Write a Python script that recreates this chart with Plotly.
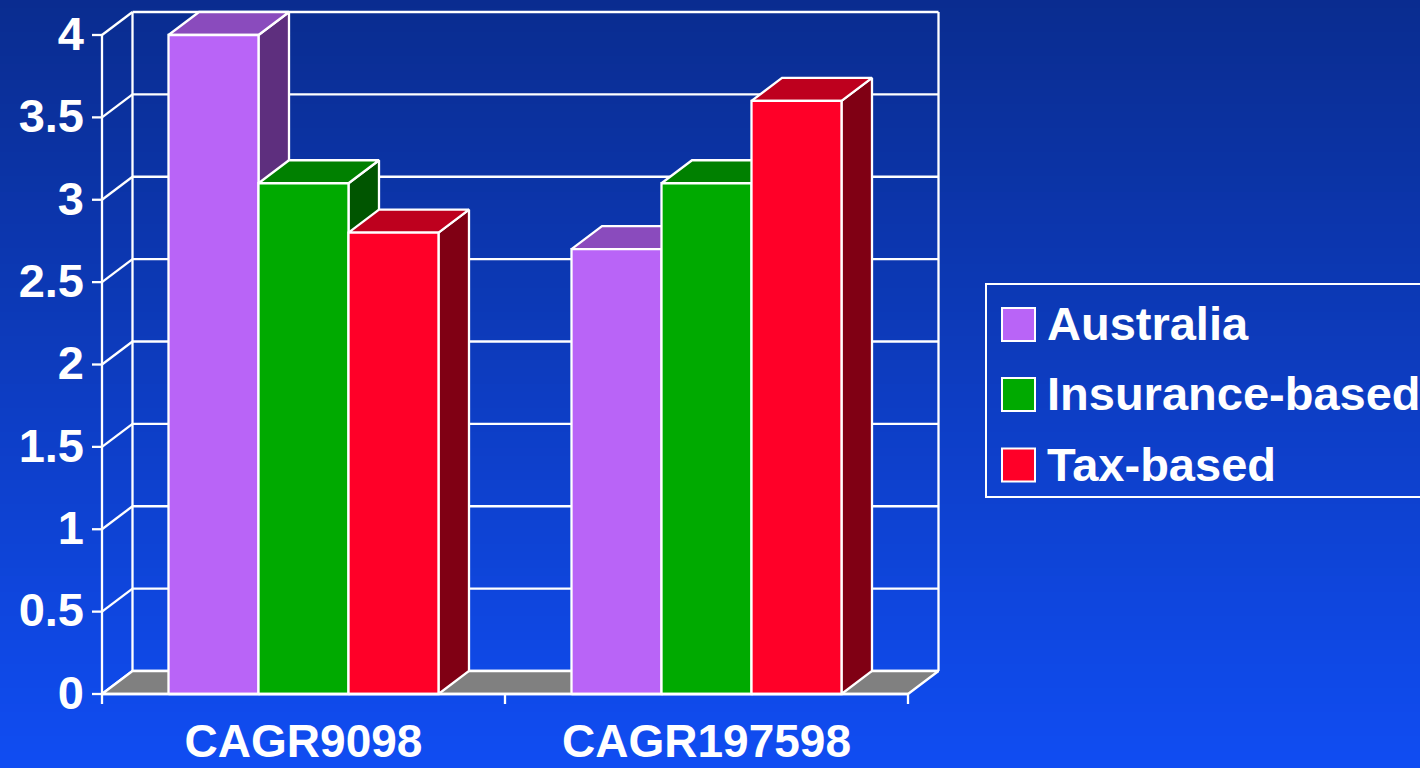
import plotly.graph_objects as go

# ---------------- data ----------------
categories = ["CAGR9098", "CAGR197598"]
series_names = ["Australia", "Insurance-based", "Tax-based"]
australia = [4.0, 2.7]
insurance_based = [3.1, 3.1]
tax_based = [2.8, 3.6]
y_tick_values = [0, 0.5, 1, 1.5, 2, 2.5, 3, 3.5, 4]
y_tick_labels = ["0", "0.5", "1", "1.5", "2", "2.5", "3", "3.5", "4"]

series_values = [australia, insurance_based, tax_based]
front_colors = ["#b964f7", "#00aa00", "#ff0028"]
top_colors = ["#8a4bbd", "#008000", "#be001e"]
side_colors = ["#5e2f7e", "#005500", "#800014"]

# ---------------- geometry (pixel scale of the axes) ----------------
W, H = 1420, 768
X0, XS = 102.0, 403.0      # pixel of x=0, pixels per category
Y0, YS = 694.0, 164.75     # pixel of y=0, pixels per unit
DX = 30.5 / XS             # depth offset in x (data units)
DY = 23.0 / YS             # depth offset in y (data units)
BAR_W = 90.0 / XS
YMAX = 4.0
LABEL_SHIFT = 3.0 / YS     # tick labels sit slightly below their ticks

def px_x(p):
    return (p - X0) / XS

def px_y(p):
    return (Y0 - p) / YS

WHITE = "white"
LW = 2.3
FONT = "Liberation Sans, Arial, sans-serif"

fig = go.Figure()

def poly(xs, ys, fill):
    fig.add_trace(go.Scatter(
        x=list(xs) + [xs[0]], y=list(ys) + [ys[0]],
        mode="lines", fill="toself", fillcolor=fill,
        line=dict(color=WHITE, width=LW), hoverinfo="skip", showlegend=False))

def line(xs, ys, width=LW):
    fig.add_trace(go.Scatter(
        x=xs, y=ys, mode="lines", line=dict(color=WHITE, width=width),
        hoverinfo="skip", showlegend=False))

ncat = len(categories)

# back wall gridlines and side wall diagonals
for v in y_tick_values:
    line([DX, ncat + DX], [v + DY, v + DY])
    line([0, DX], [v, v + DY])
line([DX, DX], [DY, YMAX + DY])
line([ncat + DX, ncat + DX], [DY, YMAX + DY])
line([0, 0], [0, YMAX])

# floor
poly([0, ncat, ncat + DX, DX], [0, 0, DY, DY], "#808080")

# bars
for i in range(ncat):
    c = i + 0.5
    for j, vals in enumerate(series_values):
        v = vals[i]
        x0 = c - 1.5 * BAR_W + j * BAR_W
        x1 = x0 + BAR_W
        poly([x1, x1, x1 + DX, x1 + DX], [0, v, v + DY, DY], side_colors[j])
        poly([x0, x1, x1 + DX, x0 + DX], [v, v, v + DY, v + DY], top_colors[j])
        poly([x0, x1, x1, x0], [0, 0, v, v], front_colors[j])

# axes lines and ticks
line([0, ncat], [0, 0])
for k in range(ncat + 1):
    line([k, k], [0, -10.0 / YS])
for v in y_tick_values:
    line([-10.0 / XS, 0], [v, v])

# y tick labels
fig.add_trace(go.Scatter(
    x=[px_x(84)] * len(y_tick_values), y=[v - LABEL_SHIFT for v in y_tick_values],
    text=y_tick_labels, mode="text", textposition="middle left",
    textfont=dict(family=FONT, size=47, color=WHITE, weight="bold"),
    hoverinfo="skip", showlegend=False))

# category labels
fig.add_trace(go.Scatter(
    x=[i + 0.5 for i in range(ncat)], y=[px_y(745)] * ncat, text=categories,
    mode="text", textposition="middle center",
    textfont=dict(family=FONT, size=46, color=WHITE, weight="bold"),
    hoverinfo="skip", showlegend=False))

# ---------------- background gradient ----------------
shapes = []
top_rgb = (10, 44, 143)
bot_rgb = (16, 77, 243)
nb = 96
for b in range(nb):
    t = (b + 0.5) / nb
    col = tuple(int(round(top_rgb[k] + (bot_rgb[k] - top_rgb[k]) * t)) for k in range(3))
    shapes.append(dict(type="rect", xref="paper", yref="paper", layer="below",
                       x0=0, x1=1, y0=1 - (b + 1) / nb - 0.001, y1=1 - b / nb,
                       fillcolor="rgb(%d,%d,%d)" % col, line=dict(width=0)))

# ---------------- legend ----------------
def pxp(x, y):
    return x / W, 1 - y / H

lx0, ly0 = pxp(986, 284)
lx1, ly1 = pxp(1440, 497)
shapes.append(dict(type="rect", xref="paper", yref="paper", x0=lx0, x1=lx1, y0=ly1, y1=ly0,
                   line=dict(color=WHITE, width=2), fillcolor="rgba(0,0,0,0)"))
annotations = []
row_y = [324.5, 394.5, 465]
for j, name in enumerate(series_names):
    sx0, sy0 = pxp(1002, row_y[j] - 16.5)
    sx1, sy1 = pxp(1035, row_y[j] + 16.5)
    shapes.append(dict(type="rect", xref="paper", yref="paper", x0=sx0, x1=sx1, y0=sy1, y1=sy0,
                       fillcolor=front_colors[j], line=dict(color=WHITE, width=2)))
    ax, ay = pxp(1045, row_y[j] - 1)
    annotations.append(dict(xref="paper", yref="paper", x=ax, y=ay, text=name,
                            xanchor="left", yanchor="middle", showarrow=False,
                            font=dict(family=FONT, size=47, color=WHITE, weight="bold")))

fig.update_layout(
    width=W, height=H, margin=dict(l=0, r=0, t=0, b=0),
    paper_bgcolor="rgb(10,44,143)", plot_bgcolor="rgba(0,0,0,0)",
    xaxis=dict(range=[px_x(0), px_x(W)], visible=False, fixedrange=True),
    yaxis=dict(range=[px_y(H), px_y(0)], visible=False, fixedrange=True),
    shapes=shapes, annotations=annotations, showlegend=False,
)

fig.write_html("out.html")
